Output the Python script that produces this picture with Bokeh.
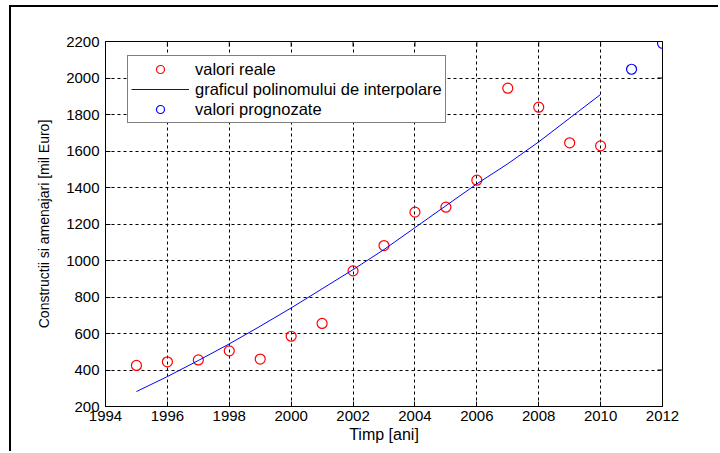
import math
from bokeh.plotting import figure
from bokeh.models import Range1d, FixedTicker, Legend, LegendItem
from bokeh.embed import file_html
from bokeh.resources import INLINE

# ---- data ----
years_real = [1995, 1996, 1997, 1998, 1999, 2000, 2001, 2002,
              2003, 2004, 2005, 2006, 2007, 2008, 2009, 2010]
values_real = [425, 445, 455, 505, 460, 585, 655, 943,
               1082, 1265, 1292, 1440, 1944, 1840, 1645, 1628]
years_fit = years_real
values_fit = [282, 364, 452, 543, 640, 740, 845, 950,
              1060, 1180, 1300, 1420, 1530, 1650, 1780, 1910]
years_forecast = [2011, 2012]
values_forecast = [2048, 2190]
x_ticks = [1994, 1996, 1998, 2000, 2002, 2004, 2006, 2008, 2010, 2012]
y_ticks = [200, 400, 600, 800, 1000, 1200, 1400, 1600, 1800, 2000, 2200]

FONT = "Liberation Sans"

p = figure(width=709, height=446, output_backend="svg", toolbar_location=None,
           x_range=Range1d(x_ticks[0], x_ticks[-1]),
           y_range=Range1d(y_ticks[0], y_ticks[-1]),
           min_border_left=94, min_border_top=34, min_border_right=58,
           min_border_bottom=47)
p.styles = {"margin-left": "9px", "margin-top": "5px",
            "border-left": "2px solid black", "border-top": "2px solid black"}
p.outline_line_color = "black"
p.outline_line_width = 1

# axes
for ax in (p.xaxis[0], p.yaxis[0]):
    ax.major_tick_in = 5
    ax.major_tick_out = 0
    ax.minor_tick_in = 0
    ax.minor_tick_out = 0
    ax.axis_line_color = "black"
    ax.major_tick_line_color = "black"
    ax.major_label_text_font = FONT
    ax.major_label_text_font_size = "15px"
    ax.major_label_text_color = "black"
    ax.axis_label_text_font = FONT
    ax.axis_label_text_font_style = "normal"
    ax.axis_label_text_color = "black"

p.xaxis[0].ticker = FixedTicker(ticks=x_ticks)
p.yaxis[0].ticker = FixedTicker(ticks=y_ticks)
p.xaxis[0].axis_label = "Timp [ani]"
p.yaxis[0].axis_label = "Constructii si amenajari [mil Euro]"
p.xaxis[0].axis_label_text_font_size = "16px"
p.yaxis[0].axis_label_text_font_size = "14px"
p.xaxis[0].major_label_standoff = 4
p.xaxis[0].axis_label_standoff = 2
p.yaxis[0].major_label_standoff = 6
p.yaxis[0].axis_label_standoff = 11

# grid
p.xgrid.ticker = FixedTicker(ticks=x_ticks)
p.ygrid.ticker = FixedTicker(ticks=y_ticks)
p.xgrid.grid_line_color = "black"
p.ygrid.grid_line_color = "black"
p.xgrid.grid_line_dash = "3 3"
p.ygrid.grid_line_dash = "3 3"
p.xgrid.grid_line_width = 1
p.ygrid.grid_line_width = 1

# inner ticks on top and right edges
p.scatter(x_ticks, [y_ticks[-1]] * len(x_ticks), marker="dash", angle=math.pi / 2,
          size=10, line_color="black", line_width=1)
p.scatter([x_ticks[-1]] * len(y_ticks), y_ticks, marker="dash",
          size=10, line_color="black", line_width=1)

# glyphs
r_real = p.scatter(years_real, values_real, marker="circle", size=10,
                   fill_color=None, line_color="#ff0000", line_width=1.2)
r_fit = p.line(years_fit, values_fit, line_color="#0000ff", line_width=1)
r_fc = p.scatter(years_forecast, values_forecast, marker="circle", size=10,
                 fill_color=None, line_color="#0000ff", line_width=1.2)

legend = Legend(items=[
    LegendItem(label="valori reale", renderers=[r_real]),
    LegendItem(label="graficul polinomului de interpolare", renderers=[r_fit]),
    LegendItem(label="valori prognozate", renderers=[r_fc]),
], location=(22, 283))
legend.border_line_color = "black"
legend.border_line_width = 1
legend.background_fill_alpha = 1
legend.label_text_font = FONT
legend.label_text_font_size = "16.5px"
legend.label_text_color = "black"
legend.glyph_width = 58
legend.glyph_height = 20
legend.label_height = 20
legend.label_standoff = 6
legend.spacing = 0
legend.padding = 3
legend.margin = 0
p.add_layout(legend, "center")

open("out.html", "w").write(file_html(p, INLINE))
